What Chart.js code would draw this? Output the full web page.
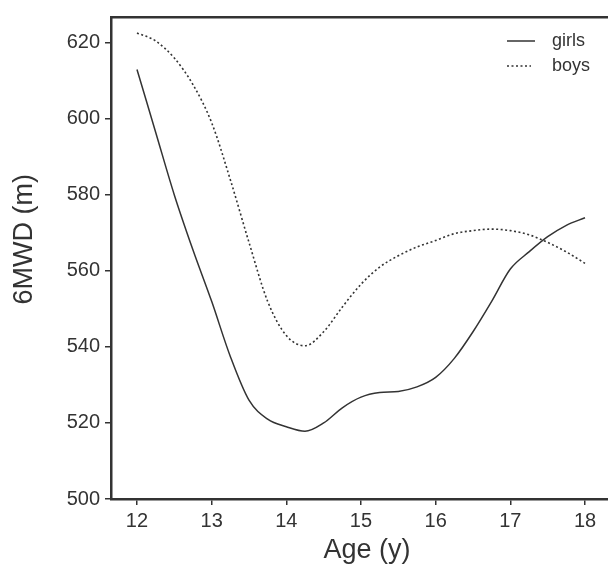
<!DOCTYPE html>
<html>
<head>
<meta charset="utf-8">
<script src="https://cdn.jsdelivr.net/npm/chart.js@4"></script>
<style>
  html, body { margin: 0; padding: 0; background: #fff; }
  #wrap { width: 608px; height: 567px; }
</style>
</head>
<body>
<div id="wrap"><canvas id="grafico" width="608" height="567"></canvas></div>
<script>
// dados
const idades = [12, 12.25, 12.5, 12.75, 13, 13.25, 13.5, 13.75, 14, 14.25, 14.5, 14.75, 15,
                15.25, 15.5, 15.75, 16, 16.25, 16.5, 16.75, 17, 17.25, 17.5, 17.75, 18];
const girls = [613, 596.5, 580, 565.5, 552, 537.5, 526, 521, 519, 517.8, 520, 524, 526.8,
               528, 528.3, 529.5, 532, 537, 544, 552, 560.5, 565, 569, 572, 574];
const boys = [622.6, 620.5, 616, 609, 599, 584, 567.5, 552, 543, 540.3, 544, 550.5, 556.5,
              561, 564, 566.3, 568, 569.8, 570.6, 571, 570.6, 569.5, 567.5, 565, 562];
const xTicks = [12, 13, 14, 15, 16, 17, 18];
const yTicks = [500, 520, 540, 560, 580, 600, 620];

const fonte = "'Liberation Sans', Arial, sans-serif";
const cinza = "#333";

function pontos(valores) {
  return idades.map((x, i) => ({ x: x, y: valores[i] }));
}

// legenda desenhada dentro da área do gráfico
const legendaPlugin = {
  id: "legendaInterna",
  afterDraw(chart) {
    const ctx = chart.ctx;
    const area = chart.chartArea;
    ctx.save();
    chart.data.datasets.forEach((ds, i) => {
      const y = area.top + 24 + i * 25;
      ctx.strokeStyle = ds.borderColor;
      ctx.lineWidth = 1.5;
      ctx.setLineDash(ds.borderDash || []);
      ctx.beginPath();
      ctx.moveTo(area.right - 101, y);
      ctx.lineTo(area.right - 73 - (ds.borderDash ? 4 : 0), y);
      ctx.stroke();
      ctx.setLineDash([]);
      ctx.fillStyle = cinza;
      ctx.font = "18px " + fonte;
      ctx.textBaseline = "middle";
      ctx.fillText(ds.label, area.right - 56, y);
    });
    ctx.restore();
  }
};

new Chart(document.getElementById("grafico"), {
  type: "line",
  data: {
    datasets: [
      { label: "girls", data: pontos(girls), borderColor: cinza, borderWidth: 1.5,
        pointRadius: 0, cubicInterpolationMode: "monotone", fill: false },
      { label: "boys", data: pontos(boys), borderColor: cinza, borderWidth: 1.6,
        borderDash: [2, 2.5], pointRadius: 0, cubicInterpolationMode: "monotone", fill: false }
    ]
  },
  options: {
    responsive: false,
    animation: false,
    layout: { padding: 0 },
    plugins: { legend: { display: false }, tooltip: { enabled: false } },
    scales: {
      x: {
        type: "linear",
        position: "bottom",
        min: 11.652,
        max: 18.308,
        afterBuildTicks: s => { s.ticks = xTicks.map(v => ({ value: v })); },
        afterFit: s => { s.height = 68; },
        grid: { display: true, drawOnChartArea: false, drawTicks: true, tickLength: 6, color: cinza, lineWidth: 1.5 },
        border: { display: true, color: cinza, width: 2.5 },
        ticks: { color: cinza, font: { family: fonte, size: 20 }, padding: 4, maxRotation: 0 },
        title: { display: true, text: "  Age (y)", color: cinza, font: { family: fonte, size: 27 }, padding: { top: 0, bottom: 0 } }
      },
      xTopo: {
        type: "linear",
        position: "top",
        afterFit: s => { s.height = 12; },
        grid: { display: false, drawTicks: false },
        border: { display: true, color: cinza, width: 2.5 },
        ticks: { display: false }
      },
      y: {
        type: "linear",
        position: "left",
        min: 500,
        max: 626.8,
        afterBuildTicks: s => { s.ticks = yTicks.map(v => ({ value: v })); },
        afterFit: s => { s.width = 111; },
        grid: { display: true, drawOnChartArea: false, drawTicks: true, tickLength: 6, color: cinza, lineWidth: 1.5 },
        border: { display: true, color: cinza, width: 2.5 },
        ticks: { color: cinza, font: { family: fonte, size: 20 }, padding: 5 },
        title: { display: true, text: "     6MWD (m)", color: cinza, font: { family: fonte, size: 27 }, padding: { top: 8, bottom: 0 } }
      }
    }
  },
  plugins: [legendaPlugin]
});
</script>
</body>
</html>
